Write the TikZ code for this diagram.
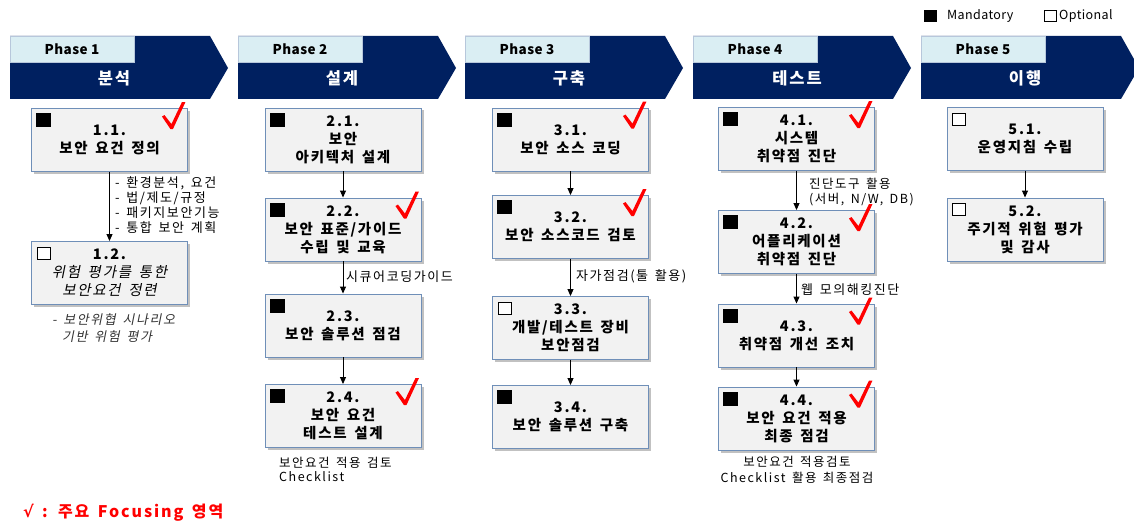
\documentclass[tikz,border=0pt]{standalone}
\usepackage{fontspec}
\setmainfont{Noto Sans CJK KR}[LetterSpace=12,WordSpace=1.5]
\newfontfamily\krit{Noto Sans CJK KR}[FakeSlant=0.2,LetterSpace=12,WordSpace=1.5]
\newfontfamily\latfont{Noto Sans CJK KR}[LetterSpace=3]
\newfontfamily\symfont{DejaVu Sans}
\usetikzlibrary{shadows,arrows.meta}
\definecolor{navy}{HTML}{002060}
\definecolor{phaselight}{HTML}{DAEEF3}
\definecolor{boxfill}{HTML}{F2F2F2}
\definecolor{boxline}{HTML}{6F8FB8}
\definecolor{chkred}{HTML}{FF0000}
\tikzset{
  box/.style={draw=boxline, fill=boxfill, line width=0.9pt, align=center,
    minimum width=156pt, minimum height=63pt, inner sep=2pt,
    font=\fontsize{14.5}{18}\selectfont\bfseries,
    drop shadow={shadow xshift=2.5pt, shadow yshift=-2.5pt, fill=black!40, opacity=0.6}},
  mand/.style={fill=black, draw=black, minimum width=14pt, minimum height=13pt, inner sep=0pt, anchor=north west},
  opt/.style={fill=white, draw=black, line width=1.2pt, minimum width=13pt, minimum height=12pt, inner sep=0pt, anchor=north west},
  arr/.style={-{Triangle[length=7pt,width=6pt]}, line width=0.9pt},
  note/.style={font=\fontsize{13}{15}\selectfont, align=left, inner sep=0pt},
  phasebox/.style={fill=phaselight, draw=boxline!50, line width=0.4pt, minimum width=124pt, minimum height=26pt, inner sep=0pt, font=\latfont\fontsize{13.5}{15}\selectfont\bfseries},
  phasetitle/.style={text=white, inner sep=0pt, font=\fontsize{16.5}{18}\selectfont\bfseries},
  chk/.pic={\fill[chkred] (-26,8.5) -- (-23.5,7) -- (-16.5,16) -- (-6,-6) -- (-2.5,-6) -- (-15,21) -- (-17.5,21) -- cycle;}
}
\begin{document}
\begin{tikzpicture}[x=1pt,y=-1pt]
\useasboundingbox (0,0) rectangle (1134,524);
\clip (0,0) rectangle (1134,524);
\fill[white] (0,0) rectangle (1134,524);

% legend
\node[fill=black, minimum width=13pt, minimum height=12pt, inner sep=0pt] (lm) at (930.5,16) {};
\node[anchor=west, inner sep=0pt, font=\latfont\fontsize{12.5}{14}\selectfont] (lmt) at (947,15.5) {Mandatory};
\node[fill=white, draw=black, line width=1.2pt, minimum width=12pt, minimum height=11pt, inner sep=0pt] (lo) at (1050.5,16) {};
\node[anchor=west, inner sep=0pt, font=\latfont\fontsize{12.5}{14}\selectfont] (lot) at (1059,15.5) {Optional};

% phase chevrons
\foreach \x/\n/\t in {10/1/분석, 238/2/설계, 465/3/구축, 693/4/테스트, 921/5/이행}{
  \fill[navy] (\x,36) -- ++(200,0) -- ++(18,32) -- ++(-18,31) -- ++(-200,0) -- cycle;
  \node[phasebox] (p\n) at (\x+62,49) {Phase \n};
  \node[phasetitle] (t\n) at (\x+104,78) {\t};
}

% column 1
\node[box] (b11) at (109.5,140) {1.1.\\보안 요건 정의};
\node[box] (b12) at (109.5,273) {1.2.\\{\krit\mdseries 위험 평가를 통한}\\{\krit\mdseries 보안요건 정련}};
% column 2
\node[box] (b21) at (343,139.5) {2.1.\\보안\\아키텍처 설계};
\node[box] (b22) at (343,229.5) {2.2.\\보안 표준/가이드\\수립 및 교육};
\node[box] (b23) at (343,325.5) {2.3.\\보안 솔루션 점검};
\node[box] (b24) at (343,416) {2.4.\\보안 요건\\테스트 설계};
% column 3
\node[box] (b31) at (570.5,139.5) {3.1.\\보안 소스 코딩};
\node[box] (b32) at (570.5,227) {3.2.\\보안 소스코드 검토};
\node[box] (b33) at (570.5,328) {3.3.\\개발/테스트 장비\\보안점검};
\node[box] (b34) at (570.5,417) {3.4.\\보안 솔루션 구축};
% column 4
\node[box] (b41) at (796.5,139) {4.1.\\시스템\\취약점 진단};
\node[box] (b42) at (796.5,242) {4.2.\\어플리케이션\\취약점 진단};
\node[box] (b43) at (796.5,335.5) {4.3.\\취약점 개선 조치};
\node[box] (b44) at (796.5,418.5) {4.4.\\보안 요건 적용\\최종 점검};
% column 5
\node[box] (b51) at (1025,139) {5.1.\\운영지침 수립};
\node[box] (b52) at (1025,229.5) {5.2.\\주기적 위험 평가\\및 감사};

% markers
\foreach \b in {b11,b21,b22,b23,b24,b31,b32,b34,b41,b42,b43,b44}{
  \node[mand] (m\b) at ([shift={(5pt,-5pt)}]\b.north west) {};
}
\foreach \b in {b12,b33,b51,b52}{
  \node[opt] (o\b) at ([shift={(5.5pt,-5.5pt)}]\b.north west) {};
}

% check marks
\foreach \b in {b11,b22,b24,b31,b32,b41,b42,b43,b44}{
  \pic at (\b.north east) {chk};
}

% arrows
\draw[arr] (b11) -- (b12);
\draw[arr] (b21) -- (b22);
\draw[arr] (b22) -- (b23);
\draw[arr] (b23) -- (b24);
\draw[arr] (b31) -- (b32);
\draw[arr] (b32) -- (b33);
\draw[arr] (b33) -- (b34);
\draw[arr] (b41) -- (b42);
\draw[arr] (b42) -- (b43);
\draw[arr] (b43) -- (b44);
\draw[arr] (b51) -- (b52);

% notes
\node[note, anchor=west] (n1) at (115,205.5) {- 환경분석, 요건\\- 법/제도/규정\\- 패키지보안기능\\- 통합 보안 계획};
\node[note, anchor=west, font=\fontsize{13}{17}\krit, text=black!80] (n12) at (52,328.5) {- 보안위협 시나리오\\\hspace*{10pt}기반 위험 평가};
\node[note, anchor=west] (n2) at (346,277) {시큐어코딩가이드};
\node[note, anchor=west, font=\fontsize{12.5}{14}\selectfont] (n24) at (279,469) {보안요건 적용 검토\\Checklist};
\node[note, anchor=west] (n3) at (576,276) {자가점검(툴 활용)};
\node[note, anchor=west, font=\fontsize{12.5}{14.5}\selectfont] (n41) at (809,192) {진단도구 활용\\(서버, N/W, DB)};
\node[note, anchor=west] (n42) at (801,290) {웹 모의해킹진단};
\node[note, align=center, font=\fontsize{12.5}{16}\selectfont] (n44) at (797,470) {보안요건 적용검토\\Checklist 활용 최종점검};

% bottom legend
\node[anchor=west, inner sep=0pt, text=chkred, font=\fontsize{16}{18}\selectfont\bfseries] (focus) at (23,513) {{\symfont\bfseries √} : 주요 Focusing 영역};
\end{tikzpicture}
\end{document}
